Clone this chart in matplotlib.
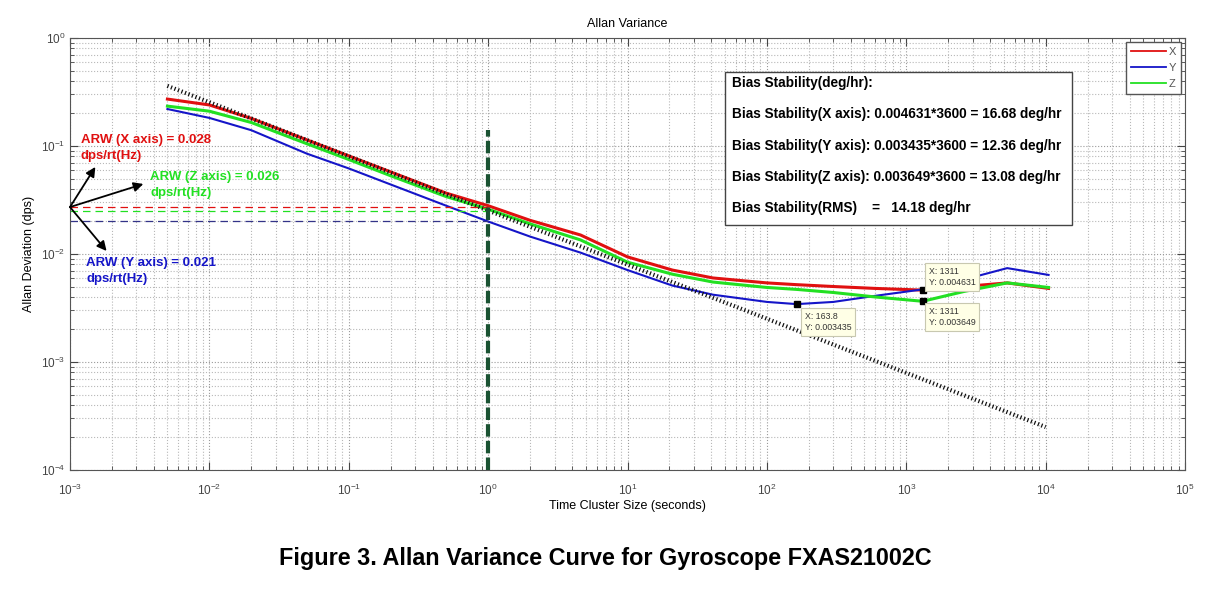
import matplotlib
matplotlib.use("Agg")
import matplotlib.pyplot as plt
from matplotlib.patches import Rectangle

plt.rcParams['font.family'] = 'Liberation Sans'
plt.rcParams['mathtext.fontset'] = 'custom'
plt.rcParams['mathtext.rm'] = 'Liberation Sans'
plt.rcParams['mathtext.default'] = 'regular'
plt.rcParams['axes.unicode_minus'] = False

# cluster times (s) and Allan deviation (dps)
tau = [0.005, 0.01, 0.02, 0.05, 0.1, 0.2, 0.5, 1, 2, 4.6, 10, 21, 41,
       100, 163.8, 300, 600, 1311, 2600, 5300, 10500]
adev_x = [0.272, 0.24, 0.18, 0.114, 0.081, 0.0575, 0.0366, 0.028, 0.0205,
          0.015, 0.0094, 0.0071, 0.006, 0.0054, 0.0052, 0.005, 0.0048,
          0.004631, 0.0050, 0.0054, 0.0048]
adev_y = [0.22, 0.182, 0.14, 0.085, 0.062, 0.044, 0.028, 0.020, 0.0145,
          0.0103, 0.0071, 0.0051, 0.0042, 0.0036, 0.003435, 0.0036, 0.0041,
          0.0047, 0.0058, 0.0074, 0.0064]
adev_z = [0.234, 0.21, 0.165, 0.105, 0.075, 0.053, 0.034, 0.026, 0.019,
          0.0135, 0.0084, 0.0065, 0.0055, 0.0049, 0.0047, 0.0044, 0.0040,
          0.003649, 0.0045, 0.0054, 0.0049]

# -1/2 slope reference line (two end points)
ref_tau = [0.005, 10000]
ref_val = [0.36, 0.00025]

# ARW levels at tau = 1 s
arw_x, arw_y, arw_z = 0.027, 0.020, 0.025

# data cursors
tips = [(163.8, 0.003435), (1311, 0.004631), (1311, 0.003649)]

red = '#e01010'
blue = '#1515c8'
green = '#22e022'

fig = plt.figure(figsize=(12.1, 6.02), dpi=100)
ax = fig.add_axes([70 / 1210, 132 / 602, 1115 / 1210, 432 / 602])
ax.set_xscale('log')
ax.set_yscale('log')
ax.set_xlim(1e-3, 1e5)
ax.set_ylim(1e-4, 1e0)

ax.grid(True, which='major', linestyle=':', color='#9a9a9a', linewidth=0.8)
ax.grid(True, which='minor', linestyle=':', color='#b8b8b8', linewidth=0.8)
ax.set_axisbelow(True)

l1, = ax.plot(tau, adev_x, color=red, lw=2.2, label='X')
l2, = ax.plot(tau, adev_y, color=blue, lw=1.5, label='Y')
l3, = ax.plot(tau, adev_z, color=green, lw=2.2, label='Z')
ax.plot(ref_tau, ref_val, color='#111111', lw=3, linestyle=(0, (0.3, 0.6)))

# ARW construction lines
ax.plot([1e-3, 1], [arw_x, arw_x], color=red, lw=0.9, dashes=(6, 4))
ax.plot([1e-3, 1], [arw_z, arw_z], color=green, lw=0.9, dashes=(6, 4))
ax.plot([1e-3, 1], [arw_y, arw_y], color='#333388', lw=0.9, dashes=(6, 4))
ax.plot([1, 1], [1e-4, 0.14], color='#1a5232', lw=3, dashes=(3, 1))

# arrows from the ARW point
tail = (1e-3, 0.0272)
for head in [(0.00152, 0.064), (0.00336, 0.0445), (0.00183, 0.01066)]:
    ax.annotate('', xy=head, xytext=tail,
                arrowprops=dict(arrowstyle='-|>', color='black', lw=1.3,
                                mutation_scale=14, shrinkA=0, shrinkB=0))

arw_kw = dict(fontsize=9.5, fontweight='bold', va='center', linespacing=1.35)
ax.text(0.00119, 0.0958, 'ARW (X axis) = 0.028\ndps/rt(Hz)', color=red, **arw_kw)
ax.text(0.00377, 0.0435, 'ARW (Z axis) = 0.026\ndps/rt(Hz)', color=green, **arw_kw)
ax.text(0.00131, 0.00697, 'ARW (Y axis) = 0.021\ndps/rt(Hz)', color=blue, **arw_kw)

# bias stability box
ax.add_patch(Rectangle((0.587, 0.567), 0.312, 0.354, transform=ax.transAxes,
                       facecolor='white', edgecolor='#444444', lw=1, zorder=4))
box_lines = ['Bias Stability(deg/hr):',
             'Bias Stability(X axis): 0.004631*3600 = 16.68 deg/hr',
             'Bias Stability(Y axis): 0.003435*3600 = 12.36 deg/hr',
             'Bias Stability(Z axis): 0.003649*3600 = 13.08 deg/hr',
             'Bias Stability(RMS)    =   14.18 deg/hr']
for i, s in enumerate(box_lines):
    ax.text(0.594, 0.896 - i * 0.0725, s, transform=ax.transAxes,
            fontsize=9.8, fontweight='bold', va='center', zorder=5)

# data cursors
tip_props = dict(boxstyle='square,pad=0.45', facecolor='#ffffe6',
                 edgecolor='#c8c8b0', lw=0.8)
for (tx, ty), off, va in zip(tips, [(8, -8), (6, 3), (6, -6)],
                             ['top', 'bottom', 'top']):
    ax.plot(tx, ty, 's', color='black', ms=5, zorder=6)
    ax.annotate('X: %g\nY: %g' % (tx, ty), xy=(tx, ty), xytext=off,
                textcoords='offset pixels', ha='left', va=va, fontsize=6.3,
                color='#333333', bbox=tip_props, zorder=6, linespacing=1.3)

leg = ax.legend(handles=[l1, l2, l3], loc='upper right', fontsize=8,
                fancybox=False, edgecolor='#555555', framealpha=1,
                handlelength=3.2, borderaxespad=0.4, labelspacing=0.55,
                handletextpad=0.2, borderpad=0.4)
for h in leg.get_lines():
    h.set_linewidth(1.3)
for t in leg.get_texts():
    t.set_color('#555555')

ax.tick_params(which='both', direction='in', top=True, right=True,
               colors='#444444', labelsize=8.5)
ax.tick_params(axis='x', which='major', pad=9)
ax.tick_params(which='major', length=6)
ax.tick_params(which='minor', length=3)
for sp in ax.spines.values():
    sp.set_color('#555555')

ax.set_title('Allan Variance', fontsize=9, pad=8)
ax.set_xlabel('Time Cluster Size (seconds)', fontsize=9, labelpad=1.5)
ax.set_ylabel('Allan Deviation (dps)', fontsize=9, labelpad=4)

fig.text(0.5, 0.073, 'Figure 3. Allan Variance Curve for Gyroscope FXAS21002C',
         ha='center', va='center', fontsize=16.8, fontweight='bold')

fig.savefig('out.png', dpi=100)
